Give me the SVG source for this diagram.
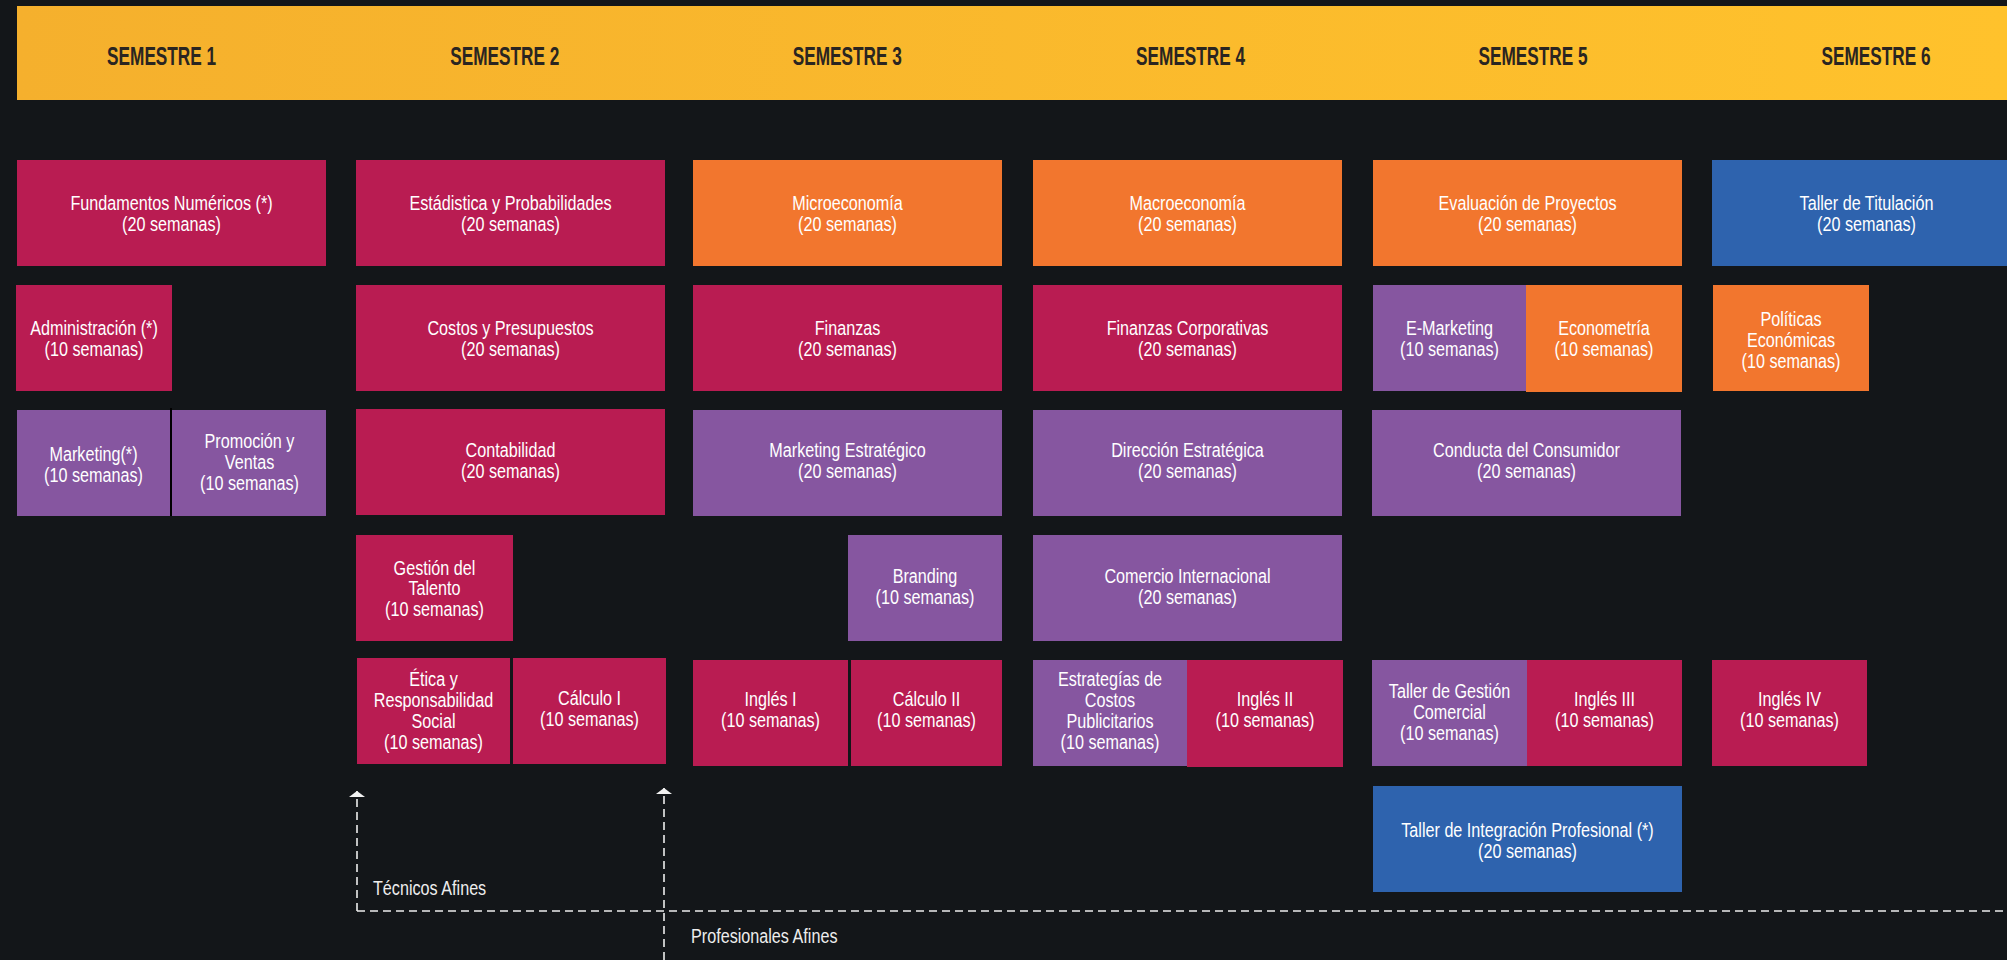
<svg xmlns="http://www.w3.org/2000/svg" width="2007" height="960" viewBox="0 0 2007 960">
<defs>
<linearGradient id="hdr" x1="0" y1="0" x2="1" y2="0">
<stop offset="0" stop-color="#F5B02D"/>
<stop offset="1" stop-color="#FFC22C"/>
</linearGradient>
<marker id="ah" viewBox="0 0 6 16" refX="6" refY="8" markerWidth="6" markerHeight="16" markerUnits="userSpaceOnUse" orient="auto">
<path d="M0,0 L6,8 L0,16 Z" fill="#F2F2F2"/>
</marker>
<style>
.mag{fill:#B91C52}
.ora{fill:#F2762E}
.pur{fill:#8656A0}
.blu{fill:#2E63AE}
.t{font-family:"Liberation Sans",Arial,sans-serif;font-size:21px;fill:#FFFFFF;text-anchor:middle}
.h{font-family:"Liberation Sans",Arial,sans-serif;font-size:26.5px;font-weight:bold;fill:#2A2521;text-anchor:middle}
.lbl{font-family:"Liberation Sans",Arial,sans-serif;font-size:21px;fill:#EDEDED}
.dash{fill:none;stroke:#EDEDED;stroke-width:1.6;stroke-dasharray:8 5}
</style>
</defs>
<rect x="0" y="0" width="2007" height="960" fill="#131619"/>
<g id="header">
<rect x="17" y="6" width="1990" height="94" fill="url(#hdr)"/>
<text class="h" transform="translate(161.6,65) scale(0.65,1)">SEMESTRE 1</text>
<text class="h" transform="translate(504.7,65) scale(0.65,1)">SEMESTRE 2</text>
<text class="h" transform="translate(847.3,65) scale(0.65,1)">SEMESTRE 3</text>
<text class="h" transform="translate(1190.6,65) scale(0.65,1)">SEMESTRE 4</text>
<text class="h" transform="translate(1533,65) scale(0.65,1)">SEMESTRE 5</text>
<text class="h" transform="translate(1876,65) scale(0.65,1)">SEMESTRE 6</text>
</g>
<g id="fundamentos"><rect class="mag" x="17" y="160" width="309" height="106"/><text class="t" transform="translate(171.5,210) scale(0.77,1)"><tspan x="0">Fundamentos Numéricos (*)</tspan><tspan x="0" dy="21">(20 semanas)</tspan></text></g>
<g id="administracion"><rect class="mag" x="16" y="285" width="156" height="106"/><text class="t" transform="translate(94,335) scale(0.77,1)"><tspan x="0">Administración (*)</tspan><tspan x="0" dy="21">(10 semanas)</tspan></text></g>
<g id="marketing"><rect class="pur" x="17" y="410" width="153" height="106"/><text class="t" transform="translate(93.5,461) scale(0.77,1)"><tspan x="0">Marketing(*)</tspan><tspan x="0" dy="21">(10 semanas)</tspan></text></g>
<g id="promocion"><rect class="pur" x="172" y="410" width="154" height="106"/><text class="t" transform="translate(249.5,448) scale(0.77,1)"><tspan x="0">Promoción y</tspan><tspan x="0" dy="21">Ventas</tspan><tspan x="0" dy="21">(10 semanas)</tspan></text></g>
<rect x="170" y="408" width="2" height="108" fill="#000000"/>
<g id="estadistica"><rect class="mag" x="356" y="160" width="309" height="106"/><text class="t" transform="translate(510.5,210) scale(0.77,1)"><tspan x="0">Estádistica y Probabilidades</tspan><tspan x="0" dy="21">(20 semanas)</tspan></text></g>
<g id="costos"><rect class="mag" x="356" y="285" width="309" height="106"/><text class="t" transform="translate(510.5,335) scale(0.77,1)"><tspan x="0">Costos y Presupuestos</tspan><tspan x="0" dy="21">(20 semanas)</tspan></text></g>
<g id="contabilidad"><rect class="mag" x="356" y="409" width="309" height="106"/><text class="t" transform="translate(510.5,457) scale(0.77,1)"><tspan x="0">Contabilidad</tspan><tspan x="0" dy="21">(20 semanas)</tspan></text></g>
<g id="gestion-talento"><rect class="mag" x="356" y="535" width="157" height="106"/><text class="t" transform="translate(434.5,574.5) scale(0.77,1)"><tspan x="0">Gestión del</tspan><tspan x="0" dy="21">Talento</tspan><tspan x="0" dy="21">(10 semanas)</tspan></text></g>
<g id="etica"><rect class="mag" x="357" y="658" width="153" height="106"/><text class="t" transform="translate(433.5,686) scale(0.77,1)"><tspan x="0">Ética y</tspan><tspan x="0" dy="21">Responsabilidad</tspan><tspan x="0" dy="21">Social</tspan><tspan x="0" dy="21">(10 semanas)</tspan></text></g>
<g id="calculo1"><rect class="mag" x="513" y="658" width="153" height="106"/><text class="t" transform="translate(589.5,705) scale(0.77,1)"><tspan x="0">Cálculo I</tspan><tspan x="0" dy="21">(10 semanas)</tspan></text></g>
<g id="microeconomia"><rect class="ora" x="693" y="160" width="309" height="106"/><text class="t" transform="translate(847.5,210) scale(0.77,1)"><tspan x="0">Microeconomía</tspan><tspan x="0" dy="21">(20 semanas)</tspan></text></g>
<g id="finanzas"><rect class="mag" x="693" y="285" width="309" height="106"/><text class="t" transform="translate(847.5,335) scale(0.77,1)"><tspan x="0">Finanzas</tspan><tspan x="0" dy="21">(20 semanas)</tspan></text></g>
<g id="marketing-estrategico"><rect class="pur" x="693" y="410" width="309" height="106"/><text class="t" transform="translate(847.5,457) scale(0.77,1)"><tspan x="0">Marketing Estratégico</tspan><tspan x="0" dy="21">(20 semanas)</tspan></text></g>
<g id="branding"><rect class="pur" x="848" y="535" width="154" height="106"/><text class="t" transform="translate(925,583) scale(0.77,1)"><tspan x="0">Branding</tspan><tspan x="0" dy="21">(10 semanas)</tspan></text></g>
<g id="ingles1"><rect class="mag" x="693" y="660" width="155" height="106"/><text class="t" transform="translate(770.5,706) scale(0.77,1)"><tspan x="0">Inglés I</tspan><tspan x="0" dy="21">(10 semanas)</tspan></text></g>
<g id="calculo2"><rect class="mag" x="851" y="660" width="151" height="106"/><text class="t" transform="translate(926.5,706) scale(0.77,1)"><tspan x="0">Cálculo II</tspan><tspan x="0" dy="21">(10 semanas)</tspan></text></g>
<g id="macroeconomia"><rect class="ora" x="1033" y="160" width="309" height="106"/><text class="t" transform="translate(1187.5,210) scale(0.77,1)"><tspan x="0">Macroeconomía</tspan><tspan x="0" dy="21">(20 semanas)</tspan></text></g>
<g id="finanzas-corporativas"><rect class="mag" x="1033" y="285" width="309" height="106"/><text class="t" transform="translate(1187.5,335) scale(0.77,1)"><tspan x="0">Finanzas Corporativas</tspan><tspan x="0" dy="21">(20 semanas)</tspan></text></g>
<g id="direccion-estrategica"><rect class="pur" x="1033" y="410" width="309" height="106"/><text class="t" transform="translate(1187.5,457) scale(0.77,1)"><tspan x="0">Dirección Estratégica</tspan><tspan x="0" dy="21">(20 semanas)</tspan></text></g>
<g id="comercio-internacional"><rect class="pur" x="1033" y="535" width="309" height="106"/><text class="t" transform="translate(1187.5,583) scale(0.77,1)"><tspan x="0">Comercio Internacional</tspan><tspan x="0" dy="21">(20 semanas)</tspan></text></g>
<g id="estrategias-costos"><rect class="pur" x="1033" y="660" width="154" height="106"/><text class="t" transform="translate(1110,686) scale(0.77,1)"><tspan x="0">Estrategías de</tspan><tspan x="0" dy="21">Costos</tspan><tspan x="0" dy="21">Publicitarios</tspan><tspan x="0" dy="21">(10 semanas)</tspan></text></g>
<g id="ingles2"><rect class="mag" x="1187" y="660" width="156" height="107"/><text class="t" transform="translate(1265,706) scale(0.77,1)"><tspan x="0">Inglés II</tspan><tspan x="0" dy="21">(10 semanas)</tspan></text></g>
<g id="evaluacion-proyectos"><rect class="ora" x="1373" y="160" width="309" height="106"/><text class="t" transform="translate(1527.5,210) scale(0.77,1)"><tspan x="0">Evaluación de Proyectos</tspan><tspan x="0" dy="21">(20 semanas)</tspan></text></g>
<g id="e-marketing"><rect class="pur" x="1373" y="285" width="153" height="106"/><text class="t" transform="translate(1449.5,335) scale(0.77,1)"><tspan x="0">E-Marketing</tspan><tspan x="0" dy="21">(10 semanas)</tspan></text></g>
<g id="econometria"><rect class="ora" x="1526" y="285" width="156" height="107"/><text class="t" transform="translate(1604,335) scale(0.77,1)"><tspan x="0">Econometría</tspan><tspan x="0" dy="21">(10 semanas)</tspan></text></g>
<g id="conducta-consumidor"><rect class="pur" x="1372" y="410" width="309" height="106"/><text class="t" transform="translate(1526.5,457) scale(0.77,1)"><tspan x="0">Conducta del Consumidor</tspan><tspan x="0" dy="21">(20 semanas)</tspan></text></g>
<g id="taller-gestion"><rect class="pur" x="1372" y="660" width="155" height="106"/><text class="t" transform="translate(1449.5,698) scale(0.77,1)"><tspan x="0">Taller de Gestión</tspan><tspan x="0" dy="21">Comercial</tspan><tspan x="0" dy="21">(10 semanas)</tspan></text></g>
<g id="ingles3"><rect class="mag" x="1527" y="660" width="155" height="106"/><text class="t" transform="translate(1604.5,706) scale(0.77,1)"><tspan x="0">Inglés III</tspan><tspan x="0" dy="21">(10 semanas)</tspan></text></g>
<g id="taller-integracion"><rect class="blu" x="1373" y="786" width="309" height="106"/><text class="t" transform="translate(1527.5,837) scale(0.77,1)"><tspan x="0">Taller de Integración Profesional (*)</tspan><tspan x="0" dy="21">(20 semanas)</tspan></text></g>
<g id="taller-titulacion"><rect class="blu" x="1712" y="160" width="309" height="106"/><text class="t" transform="translate(1866.5,210) scale(0.77,1)"><tspan x="0">Taller de Titulación</tspan><tspan x="0" dy="21">(20 semanas)</tspan></text></g>
<g id="politicas-economicas"><rect class="ora" x="1713" y="285" width="156" height="106"/><text class="t" transform="translate(1791,326) scale(0.77,1)"><tspan x="0">Políticas</tspan><tspan x="0" dy="21">Económicas</tspan><tspan x="0" dy="21">(10 semanas)</tspan></text></g>
<g id="ingles4"><rect class="mag" x="1712" y="660" width="155" height="106"/><text class="t" transform="translate(1789.5,706) scale(0.77,1)"><tspan x="0">Inglés IV</tspan><tspan x="0" dy="21">(10 semanas)</tspan></text></g>
<g id="connectors">
<path class="dash" d="M357,911 L357,791" marker-end="url(#ah)"/>
<path class="dash" d="M664,960 L664,788" marker-end="url(#ah)"/>
<path class="dash" d="M357,911 L2007,911"/>
<text class="lbl" transform="translate(373,895) scale(0.77,1)">Técnicos Afines</text>
<text class="lbl" transform="translate(691,943) scale(0.77,1)">Profesionales Afines</text>
</g>
</svg>
